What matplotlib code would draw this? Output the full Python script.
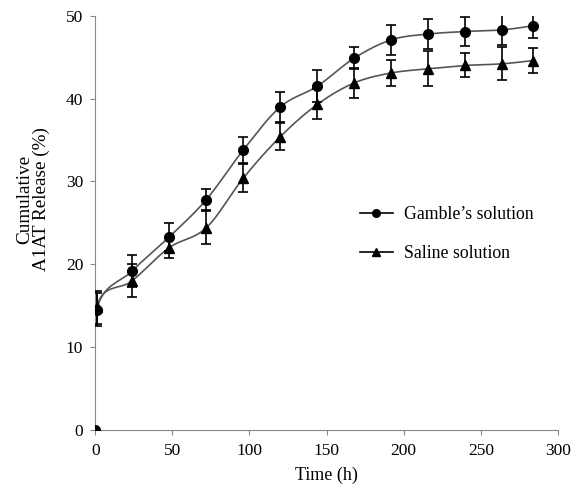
import numpy as np
import matplotlib
matplotlib.use("Agg")
import matplotlib.pyplot as plt
from matplotlib.lines import Line2D

plt.rcParams["font.family"] = ["Liberation Serif", "DejaVu Serif"]

time_h = [0, 1, 24, 48, 72, 96, 120, 144, 168, 192, 216, 240, 264, 284]
gamble = [0, 14.5, 19.2, 23.3, 27.8, 33.8, 39.0, 41.5, 44.9, 47.1, 47.8, 48.1, 48.3, 48.8]
gamble_err = [0, 2.0, 1.9, 1.7, 1.3, 1.6, 1.8, 1.9, 1.3, 1.8, 1.8, 1.7, 1.8, 1.5]
saline = [0, 14.8, 18.0, 22.0, 24.4, 30.4, 35.4, 39.3, 41.9, 43.1, 43.6, 44.0, 44.2, 44.6]
saline_err = [0, 2.0, 2.0, 1.2, 2.0, 1.7, 1.6, 1.8, 1.8, 1.6, 2.1, 1.45, 2.0, 1.5]
labels = ["Gamble\u2019s solution", "Saline solution"]


def smooth(x, y, n=20):
    # Catmull-Rom through the data points, like Excel's smoothed line
    x = np.asarray(x, float)
    y = np.asarray(y, float)
    px = np.concatenate([[x[0]], x, [x[-1]]])
    py = np.concatenate([[y[0]], y, [y[-1]]])
    xs, ys = [], []
    t = np.linspace(0, 1, n)
    for i in range(1, len(px) - 2):
        for p, out in ((px, xs), (py, ys)):
            p0, p1, p2, p3 = p[i - 1], p[i], p[i + 1], p[i + 2]
            out.extend(0.5 * ((2 * p1) + (-p0 + p2) * t
                              + (2 * p0 - 5 * p1 + 4 * p2 - p3) * t ** 2
                              + (-p0 + 3 * p1 - 3 * p2 + p3) * t ** 3))
    return xs, ys


fig = plt.figure(figsize=(5.77, 4.93), dpi=100)
ax = fig.add_axes([0.165, 0.128, 0.802, 0.840])

line_kw = dict(color="#555555", lw=1.2)
for y, err, mk, ms in ((gamble, gamble_err, "o", 7), (saline, saline_err, "^", 6.5)):
    sx, sy = smooth(time_h, y)
    ax.plot(sx, sy, **line_kw, zorder=2)
    ax.errorbar(time_h, y, yerr=err, fmt=mk, ms=ms, color="black",
                ecolor="black", elinewidth=1.2, capsize=3.6, capthick=1.2, zorder=3)

handles = [Line2D([], [], color="black", lw=1.2, marker="o", ms=5.5),
           Line2D([], [], color="black", lw=1.2, marker="^", ms=5.5)]
ax.legend(handles, labels, loc="upper left", bbox_to_anchor=(0.624, 0.582),
          bbox_transform=fig.transFigure, borderpad=0, borderaxespad=0,
          frameon=False, fontsize=12.8, handlelength=1.85, handletextpad=0.65,
          labelspacing=1.25)

ax.set_xlim(0, 300)
ax.set_ylim(0, 50)
ax.set_xticks(range(0, 301, 50))
ax.set_yticks(range(0, 51, 10))
ax.spines["top"].set_visible(False)
ax.spines["right"].set_visible(False)
for s in ("left", "bottom"):
    ax.spines[s].set_color("#888888")
ax.tick_params(direction="out", color="#888888", labelsize=12.5, length=3.6)
ax.tick_params(axis="x", pad=5.5)
ax.tick_params(axis="y", pad=5)
ax.set_xlabel("Time (h)", fontsize=13, labelpad=6)
fig.text(33 / 577, 1 - 199 / 493, "Cumulative\nA1AT Release (%)", rotation=90,
         ha="center", va="center", multialignment="center", fontsize=13.8,
         linespacing=0.95)

fig.savefig("out.png", dpi=100)
